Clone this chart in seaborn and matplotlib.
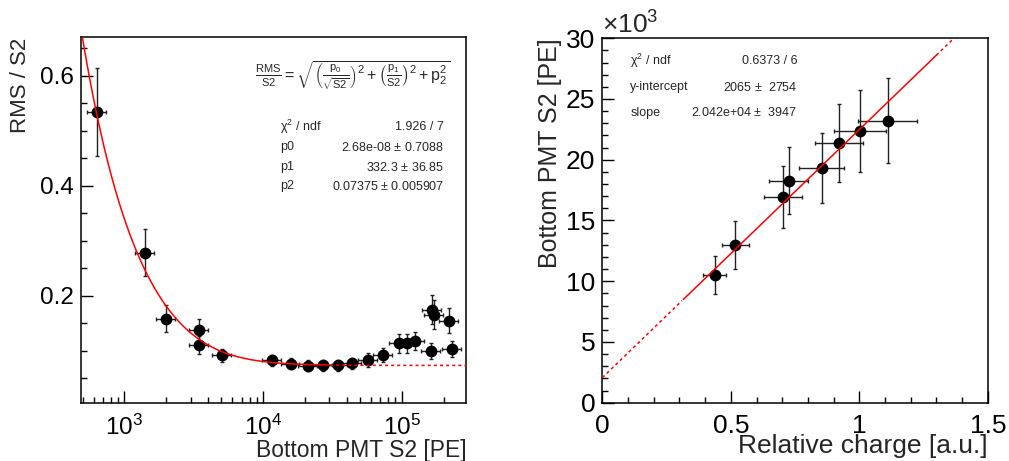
import numpy as np
import pandas as pd
import seaborn as sns
import matplotlib
matplotlib.use("Agg")
import matplotlib.pyplot as plt
from matplotlib.ticker import MultipleLocator, LogLocator, FuncFormatter, NullFormatter

# left panel: resolution vs bottom PMT S2
s2_pe = [636, 1413, 2000, 3475, 3475, 5090, 11670, 15850, 21040, 26990, 34600,
         43650, 57540, 73790, 95700, 109400, 124200, 162900, 166000, 171000,
         219300, 229700]
rms_ratio = [0.535, 0.279, 0.159, 0.139, 0.111, 0.092, 0.0836, 0.0764, 0.0727,
             0.0745, 0.0745, 0.0776, 0.0836, 0.0933, 0.114, 0.114, 0.118, 0.100,
             0.175, 0.166, 0.155, 0.1036]
rms_err = [0.080, 0.043, 0.024, 0.020, 0.017, 0.012, 0.010, 0.010, 0.010, 0.010,
           0.010, 0.010, 0.012, 0.013, 0.017, 0.017, 0.017, 0.014, 0.026, 0.026,
           0.023, 0.015]
s2_rel_err = 0.155
p0, p1, p2 = 2.68e-08, 332.3, 0.07375
fit_end_left = 3.0e4

# right panel: S2 vs relative charge
charge = [0.4375, 0.518, 0.702, 0.7246, 0.854, 0.9205, 1.0024, 1.110]
charge_err = [0.044, 0.053, 0.073, 0.075, 0.088, 0.093, 0.101, 0.114]
s2_mean = [10510, 12980, 16950, 18270, 19320, 21400, 22390, 23210]
s2_err = [1560, 1960, 2540, 2740, 2920, 3200, 3360, 3500]
intercept, slope = 2065, 2.042e4
fit_range_right = (0.314, 1.30)

sns.set_theme(style="ticks")
plt.rcParams["font.family"] = ["Liberation Sans", "DejaVu Sans"]
plt.rcParams["mathtext.fontset"] = "custom"
plt.rcParams["mathtext.rm"] = "Liberation Sans"
plt.rcParams["mathtext.it"] = "Liberation Sans:italic"
plt.rcParams["mathtext.default"] = "regular"

fig = plt.figure(figsize=(10.09, 4.61), dpi=100)
ax1 = fig.add_axes([0.080, 0.1265, 0.382, 0.7922])
ax2 = fig.add_axes([0.597, 0.1265, 0.382, 0.7905])

def root_style(ax, lab_size):
    for sp in ax.spines.values():
        sp.set_linewidth(1.1)
        sp.set_color("black")
    ax.tick_params(which="both", direction="in", top=False, right=False,
                   colors="black", width=1.0, labelsize=lab_size)
    ax.tick_params(which="major", length=8.5)
    ax.tick_params(which="minor", length=4.3)
    ax.set_facecolor("white")

# ---- left
xlo, xhi = 485, 2.91e5
ax1.set_xscale("log")
ax1.errorbar(s2_pe, rms_ratio, xerr=np.array(s2_pe) * s2_rel_err, yerr=rms_err,
             fmt="none", ecolor="#222222", elinewidth=1.0, capsize=1.6, zorder=2)
sns.scatterplot(x=s2_pe, y=rms_ratio, ax=ax1, color="black", s=72,
                edgecolor="black", linewidth=0, zorder=3)
xs = np.logspace(np.log10(xlo), np.log10(xhi), 400)
fit_df = pd.DataFrame({"x": xs, "y": np.sqrt((p0 / np.sqrt(xs)) ** 2 + (p1 / xs) ** 2 + p2 ** 2)})
sns.lineplot(data=fit_df[fit_df.x <= fit_end_left], x="x", y="y", ax=ax1,
             color="red", linewidth=1.1, zorder=4)
sns.lineplot(data=fit_df[fit_df.x >= fit_end_left], x="x", y="y", ax=ax1,
             color="red", linewidth=1.1, linestyle=(0, (2, 2)), zorder=4)
ax1.set_xlim(xlo, xhi)
ax1.set_ylim(0.006, 0.670)
ax1.xaxis.set_major_locator(LogLocator(base=10, numticks=10))
ax1.xaxis.set_minor_locator(LogLocator(base=10, subs=np.arange(2, 10), numticks=20))
ax1.xaxis.set_minor_formatter(NullFormatter())
ax1.yaxis.set_major_locator(MultipleLocator(0.2))
ax1.yaxis.set_minor_locator(MultipleLocator(0.05))
root_style(ax1, 17.5)
ax1.tick_params(axis="x", pad=9)
ax1.tick_params(axis="y", pad=5)
ax1.set_xlabel("Bottom PMT S2 [PE]", fontsize=16.5, loc="right")
ax1.xaxis.set_label_coords(1.0, -0.10)
ax1.set_ylabel("RMS / S2", fontsize=16, loc="top")
ax1.yaxis.set_label_coords(-0.128, 1.0)

ax1.text(0.452, 0.897,
         r"$\frac{RMS}{S2}=\sqrt{\left(\frac{p_{0}}{\sqrt{S2}}\right)^{2}+\left(\frac{p_{1}}{S2}\right)^{2}+p_{2}^{2}}$",
         transform=ax1.transAxes, fontsize=11.5, ha="left", va="center")
stat_l = [(r"$\chi^{2}$ / ndf", "1.926 / 7"),
          ("p0", r"2.68e-08 $\pm$ 0.7088"),
          ("p1", r"332.3 $\pm$ 36.85"),
          ("p2", r"0.07375 $\pm$ 0.005907")]
for (lab, val), yy in zip(stat_l, [0.7545, 0.6998, 0.645, 0.593]):
    ax1.text(0.517, yy, lab, transform=ax1.transAxes, fontsize=9, ha="left", va="center")
    ax1.text(0.943, yy, val, transform=ax1.transAxes, fontsize=9, ha="right", va="center")

# ---- right
ax2.errorbar(charge, s2_mean, xerr=charge_err, yerr=s2_err, fmt="none",
             ecolor="#222222", elinewidth=1.0, capsize=1.6, zorder=2)
sns.scatterplot(x=charge, y=s2_mean, ax=ax2, color="black", s=72,
                edgecolor="black", linewidth=0, zorder=3)
xl = np.linspace(0, 1.5, 301)
line_df = pd.DataFrame({"x": xl, "y": intercept + slope * xl})
inside = (line_df.x >= fit_range_right[0]) & (line_df.x <= fit_range_right[1])
sns.lineplot(data=line_df[inside], x="x", y="y", ax=ax2, color="red",
             linewidth=1.1, zorder=4)
sns.lineplot(data=line_df[line_df.x <= fit_range_right[0]], x="x", y="y", ax=ax2,
             color="red", linewidth=1.1, linestyle=(0, (2, 2)), zorder=4)
sns.lineplot(data=line_df[line_df.x >= fit_range_right[1]], x="x", y="y", ax=ax2,
             color="red", linewidth=1.1, linestyle=(0, (2, 2)), zorder=4)
ax2.set_xlim(0, 1.5)
ax2.set_ylim(0, 30000)
ax2.xaxis.set_major_locator(MultipleLocator(0.5))
ax2.xaxis.set_minor_locator(MultipleLocator(0.1))
ax2.yaxis.set_major_locator(MultipleLocator(5000))
ax2.yaxis.set_minor_locator(MultipleLocator(1000))
ax2.xaxis.set_major_formatter(FuncFormatter(lambda v, p: "%g" % v))
ax2.yaxis.set_major_formatter(FuncFormatter(lambda v, p: "%g" % (v / 1000)))
root_style(ax2, 19)
ax2.tick_params(axis="x", pad=8)
ax2.tick_params(axis="y", pad=5)
ax2.set_xlabel("Relative charge [a.u.]", fontsize=19, loc="right")
ax2.xaxis.set_label_coords(1.0, -0.085)
ax2.set_ylabel("Bottom PMT S2 [PE]", fontsize=18, loc="top")
ax2.yaxis.set_label_coords(-0.104, 1.0)
ax2.text(0.0, 1.0, r"$\times10^{3}$", transform=ax2.transAxes, fontsize=19,
         ha="left", va="bottom")

stat_r = [(r"$\chi^{2}$ / ndf", "0.6373 / 6"),
          ("y-intercept", r"2065 $\pm$  2754"),
          ("slope", r"2.042e+04 $\pm$  3947")]
for (lab, val), yy in zip(stat_r, [0.9377, 0.8655, 0.7958]):
    ax2.text(0.0727, yy, lab, transform=ax2.transAxes, fontsize=9, ha="left", va="center")
    ax2.text(0.5055, yy, val, transform=ax2.transAxes, fontsize=9, ha="right", va="center")

fig.savefig("out.png", dpi=100, facecolor="white")
